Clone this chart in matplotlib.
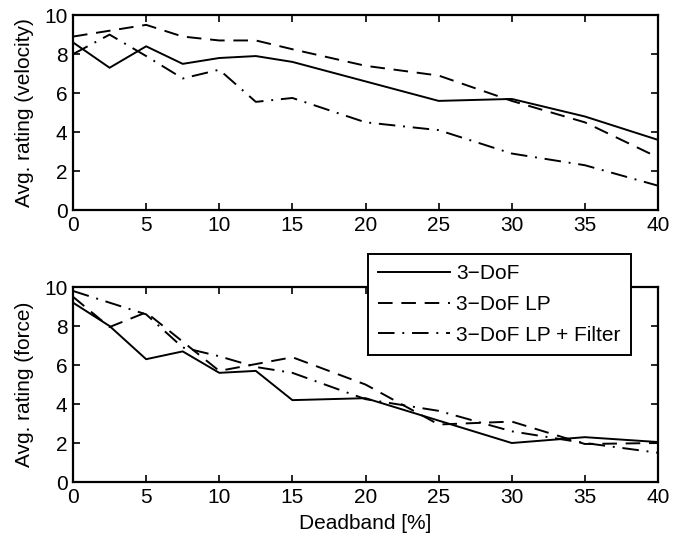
import matplotlib
matplotlib.use("Agg")
import matplotlib.pyplot as plt

plt.rcParams['font.family'] = ['Liberation Sans', 'DejaVu Sans']

deadband = [0, 2.5, 5, 7.5, 10, 12.5, 15, 20, 25, 30, 35, 40]

vel_3dof = [8.6, 7.3, 8.4, 7.5, 7.8, 7.9, 7.6, 6.6, 5.6, 5.7, 4.8, 3.6]
vel_lp = [8.9, 9.2, 9.5, 8.9, 8.7, 8.7, 8.25, 7.4, 6.9, 5.6, 4.5, 2.7]
vel_filter = [8.0, 9.0, 7.9, 6.75, 7.2, 5.55, 5.75, 4.5, 4.1, 2.9, 2.3, 1.25]

force_3dof = [9.2, 8.0, 6.3, 6.7, 5.6, 5.7, 4.2, 4.3, 3.15, 2.0, 2.3, 2.05]
force_lp = [9.5, 7.95, 8.7, 7.2, 5.7, 6.05, 6.4, 5.0, 2.95, 3.1, 1.95, 2.0]
force_filter = [9.8, 9.2, 8.6, 6.9, 6.45, 5.9, 5.6, 4.25, 3.65, 2.6, 2.0, 1.5]

labels = ['3\u2212DoF', '3\u2212DoF LP', '3\u2212DoF LP + Filter']
xticks = [0, 5, 10, 15, 20, 25, 30, 35, 40]
yticks = [0, 2, 4, 6, 8, 10]

fs = 15

fig = plt.figure(figsize=(6.85, 5.4), dpi=100)
ax1 = fig.add_axes([0.1066, 0.611, 0.854, 0.361])
ax2 = fig.add_axes([0.1066, 0.1074, 0.854, 0.361])

lw = 1.4
styles = [dict(linestyle='-'),
          dict(linestyle=(0, (7.5, 4.5))),
          dict(linestyle=(0, (8.5, 4, 1, 4)))]

for ax, series, ylabel in [(ax1, [vel_3dof, vel_lp, vel_filter], 'Avg. rating (velocity)'),
                           (ax2, [force_3dof, force_lp, force_filter], 'Avg. rating (force)')]:
    handles = []
    for s, st, lab in zip(series, styles, labels):
        h, = ax.plot(deadband, s, color='black', linewidth=lw, label=lab, **st)
        handles.append(h)
    ax.set_xlim(0, 40)
    ax.set_ylim(0, 10)
    ax.set_xticks(xticks)
    ax.set_yticks(yticks)
    ax.tick_params(direction='in', top=True, right=True, labelsize=fs,
                   length=5, width=1.2, pad=4)
    for sp in ax.spines.values():
        sp.set_linewidth(1.6)
    ax.set_ylabel(ylabel, fontsize=fs, labelpad=7)

ax2.set_xlabel('Deadband [%]', fontsize=fs, labelpad=5)

leg = fig.legend(handles, labels, loc='upper left', bbox_to_anchor=(0.537, 0.530),
                 bbox_transform=fig.transFigure, fontsize=fs, frameon=True,
                 fancybox=False, edgecolor='black', framealpha=1,
                 handlelength=3.45, handletextpad=0.3, borderpad=0.5,
                 labelspacing=0.56, borderaxespad=0)
leg.get_frame().set_linewidth(1.4)

fig.savefig('out.png', dpi=100)
